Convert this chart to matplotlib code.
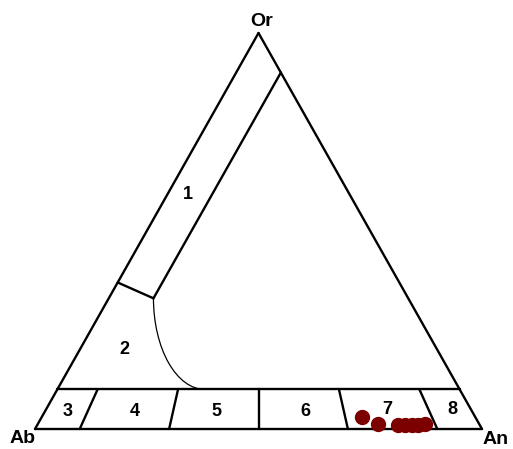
import matplotlib
matplotlib.use('Agg')
import matplotlib.pyplot as plt
from matplotlib.patches import Arc

plt.rcParams['font.family'] = ['Liberation Sans', 'DejaVu Sans']

# Данные: составы полевых шпатов (мол. %), An и Or
sample_an = [71.5, 76.0, 80.6, 82.3, 83.8, 85.2, 86.5]
sample_or = [3.1, 1.3, 1.0, 1.0, 1.0, 1.0, 1.3]

# Границы полей
plag_bounds = [10, 30, 50, 70, 90]   # An, % в ряду плагиоклазов
band_or = 10                          # верх полосы плагиоклазов, Or %
san_an = 10                           # граница санидина, An %
san_low_or = 33                       # нижний конец этой границы, Or %
tie_or = 37                           # граница санидин / анортоклаз на стороне Ab-Or
curve_end_an = 33                     # конец дуги на линии Or = 10

field_labels = ['1', '2', '3', '4', '5', '6', '7', '8']
vertex_labels = ['Or', 'Ab', 'An']


# перевод из тройной системы (An, Or в %) в декартовы координаты
def tern(an, or_):
    an = an / 100.0
    or_ = or_ / 100.0
    return an + or_ / 2.0, or_


def seg(ax, p1, p2, lw=1.7):
    x1, y1 = tern(*p1)
    x2, y2 = tern(*p2)
    ax.plot([x1, x2], [y1, y2], color='black', lw=lw, solid_capstyle='round')


fig = plt.figure(figsize=(5.13, 4.49), dpi=100)
ax = fig.add_axes([0, 0, 1, 1])
ax.set_xlim(-35 / 447, 478 / 447)
ax.set_ylim(-20 / 396, 429 / 396)
ax.axis('off')

# основной треугольник
seg(ax, (0, 0), (100, 0))
seg(ax, (100, 0), (0, 100))
seg(ax, (0, 100), (0, 0))

# полоса плагиоклазов
seg(ax, (0, band_or), (100 - band_or, band_or))
for b in plag_bounds:
    an_top = b * (100 - band_or) / 100.0
    seg(ax, (b, 0), (an_top, band_or))

# поле санидина
seg(ax, (san_an, 100 - san_an), (san_an, san_low_or))
seg(ax, (0, tie_or), (san_an, san_low_or))

# дуга анортоклаза
x0, y0 = tern(san_an, san_low_or)
x1, y1 = tern(curve_end_an, band_or)
arc = Arc((x1, y0), 2 * (x1 - x0), 2 * (y0 - y1), theta1=180, theta2=270,
          color='black', lw=0.9)
ax.add_patch(arc)

# точки анализов
sx = [tern(a, o)[0] for a, o in zip(sample_an, sample_or)]
sy = [tern(a, o)[1] for a, o in zip(sample_an, sample_or)]
ax.plot(sx, sy, 'o', color='#7d0000', markersize=10, zorder=5)

# подписи
fpos = [(0.342, 0.591), (0.201, 0.202), (0.072, 0.043), (0.224, 0.043),
        (0.405, 0.043), (0.604, 0.043), (0.787, 0.048), (0.933, 0.048)]
for lab, (x, y) in zip(field_labels, fpos):
    ax.text(x, y, lab, fontsize=13, fontweight='bold', ha='center', va='center')

vpos = [(0.508, 1.030), (-0.027, -0.024), (1.030, -0.026)]
for lab, (x, y) in zip(vertex_labels, vpos):
    ax.text(x, y, lab, fontsize=14, fontweight='bold', ha='center', va='center')

plt.savefig('out.png', dpi=100)
